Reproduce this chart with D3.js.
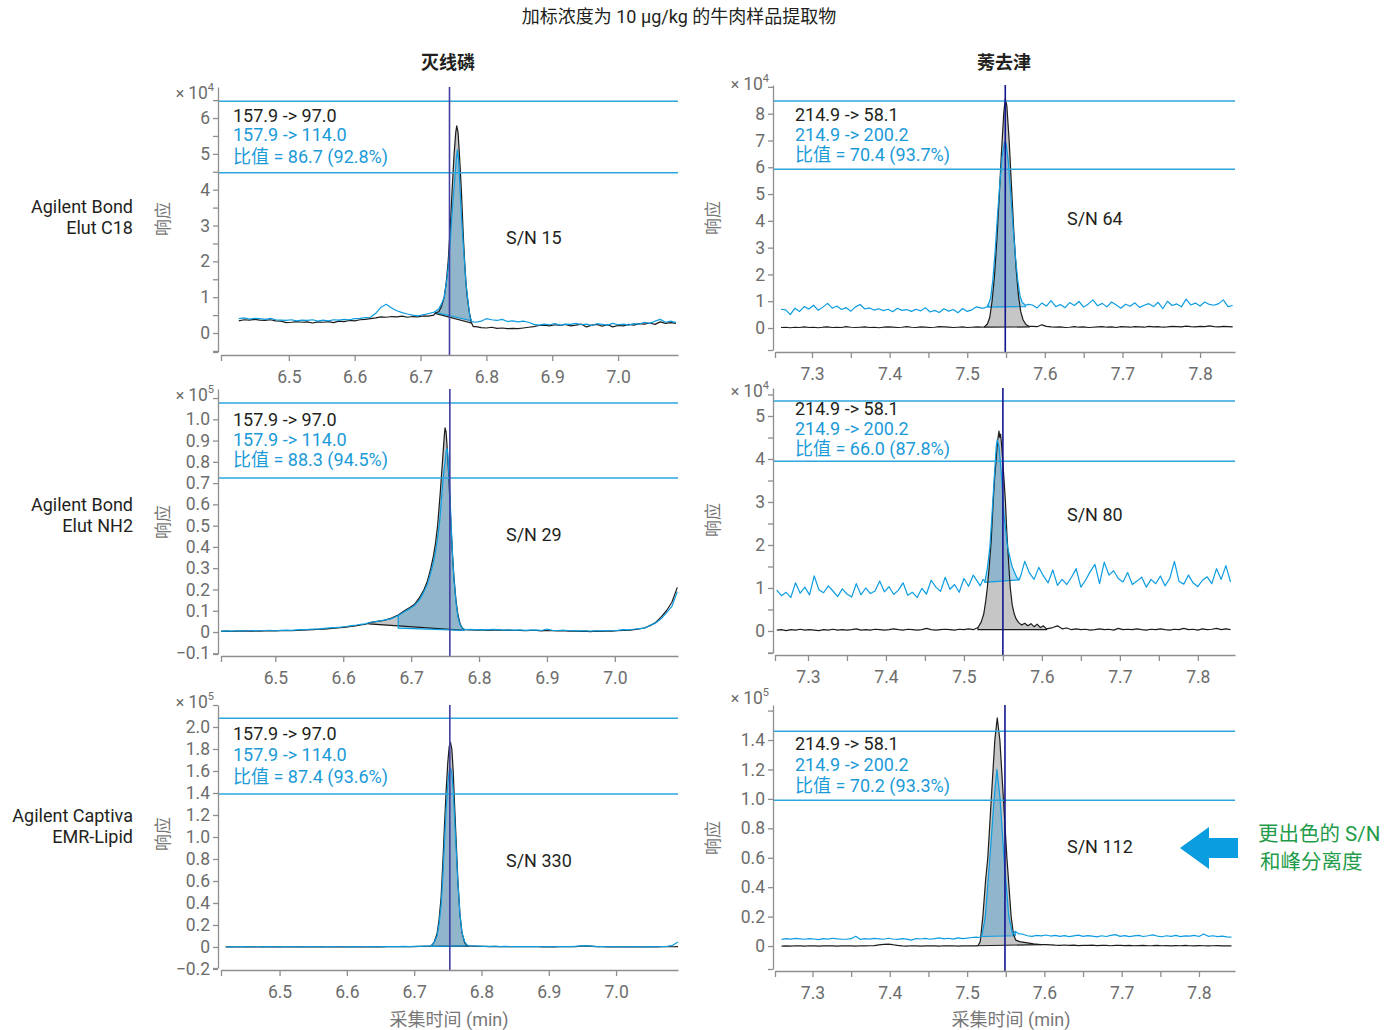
<!DOCTYPE html>
<html>
<head>
<meta charset="utf-8">
<script src="https://cdn.jsdelivr.net/npm/d3@7/dist/d3.min.js"></script>
<style>
body{margin:0;background:#fff;}
svg text{font-family:Roboto,"Noto Sans CJK SC",sans-serif;}
</style>
</head>
<body>
<svg id="chart" width="1393" height="1030"></svg>
<script>

// ---------- data (intensity in x10^4 or x10^5 counts, time in min) ----------

// 灭线磷 / Bond Elut C18  (x10^4)
var tlStep=0.008, tlPreStart=6.424, tlPostStart=6.784;
var tlBlackPre=[0.34,0.37,0.36,0.38,0.36,0.35,0.37,0.34,0.33,0.29,0.30,0.32,0.30,0.31,0.28,0.31,0.30,0.32,0.29,0.33,
	0.32,0.35,0.34,0.37,0.38,0.40,0.42,0.45,0.44,0.46,0.45,0.47,0.44,0.46,0.45,0.48,0.47,0.50];
var tlBlackPeak=[[6.722,0.55],[6.728,0.60],[6.732,0.75],[6.736,1.0],[6.739,1.4],[6.742,2.0],[6.745,2.9],[6.748,4.0],[6.751,5.0],
	[6.7535,5.6],[6.755,5.78],[6.757,5.6],[6.759,5.0],[6.762,4.0],[6.765,2.7],[6.767,2.0],[6.769,1.4],[6.771,1.0],[6.774,0.6],[6.777,0.3],[6.780,0.18]];
var tlBlackPost=[0.18,0.15,0.14,0.16,0.13,0.14,0.12,0.13,0.12,0.14,0.16,0.18,0.21,0.22,0.20,0.23,0.21,0.24,0.20,0.22,
	0.25,0.17,0.22,0.24,0.19,0.23,0.17,0.21,0.20,0.24,0.22,0.26,0.25,0.28,0.24,0.31,0.27,0.29,0.27];
var tlBluePre=[0.40,0.42,0.39,0.41,0.40,0.38,0.41,0.37,0.36,0.35,0.37,0.34,0.36,0.35,0.37,0.33,0.36,0.34,0.37,0.36,
	0.38,0.37,0.40,0.41,0.43,0.44,0.55,0.72,0.80,0.70,0.62,0.57,0.53,0.50,0.48,0.51,0.54,0.58];
var tlBluePeak=[[6.722,0.60],[6.728,0.68],[6.732,0.82],[6.736,1.0],[6.740,1.5],[6.743,2.0],[6.746,2.8],[6.749,3.6],[6.752,4.3],
	[6.7545,4.9],[6.756,5.11],[6.758,4.8],[6.760,4.0],[6.763,3.0],[6.766,2.2],[6.769,1.4],[6.772,0.9],[6.775,0.45],[6.778,0.32]];
var tlBluePost=[0.30,0.33,0.40,0.37,0.35,0.38,0.32,0.34,0.31,0.33,0.30,0.24,0.22,0.25,0.23,0.26,0.22,0.25,0.24,0.27,
	0.23,0.25,0.21,0.26,0.24,0.22,0.27,0.23,0.25,0.22,0.26,0.25,0.30,0.27,0.33,0.38,0.30,0.33,0.29];
var tlBlackBase=[[6.722,0.55],[6.777,0.28]];
var tlBlueBase=[[6.722,0.58],[6.776,0.35]];
var tlRT=6.744, tlLimits=[4.47,6.47];

// 灭线磷 / Bond Elut NH2  (x10^5)
var mlStep=0.008, mlPreStart=6.42, mlPostStart=6.788;
var mlBlackPre=[0.003,0.004,0.003,0.004,0.005,0.004,0.005,0.004,0.005,0.006,0.005,0.006,0.007,0.006,0.008,0.009,0.010,0.011,0.013,0.014,
	0.016,0.018,0.020,0.023,0.026,0.030,0.034];
var mlBlackPeak=[[6.632,0.036],[6.641,0.045],[6.650,0.05],[6.660,0.055],[6.670,0.064],[6.681,0.08],[6.690,0.1],[6.698,0.115],[6.705,0.13],
	[6.712,0.16],[6.719,0.2],[6.724,0.24],[6.729,0.3],[6.733,0.36],[6.736,0.42],[6.739,0.5],[6.741,0.58],[6.743,0.66],[6.745,0.75],
	[6.747,0.84],[6.749,0.93],[6.750,0.96],[6.7515,0.94],[6.753,0.87],[6.755,0.76],[6.757,0.62],[6.759,0.48],[6.761,0.36],[6.763,0.26],
	[6.766,0.15],[6.769,0.08],[6.772,0.04],[6.775,0.02],[6.778,0.012],[6.784,0.01]];
var mlBlackPost=[0.010,0.009,0.010,0.008,0.009,0.010,0.008,0.009,0.007,0.008,0.006,0.008,0.007,0.005,0.007,0.006,0.005,0.006,0.004,0.005,
	0.003,0.004,0.002,0.004,0.003,0.005,0.004,0.006,0.008,0.007,0.011,0.014,0.020,0.030,0.045,0.070,0.100,0.140,0.210];
var mlBluePre=[0.004,0.005,0.004,0.006,0.005,0.006,0.007,0.006,0.007,0.008,0.006,0.008,0.009,0.008,0.010,0.011,0.012,0.014,0.015,0.017,
	0.019,0.021,0.023,0.026,0.030,0.033,0.037];
var mlBluePeak=[[6.632,0.038],[6.641,0.046],[6.650,0.05],[6.660,0.056],[6.670,0.062],[6.680,0.075],[6.690,0.095],[6.698,0.11],[6.705,0.125],
	[6.712,0.15],[6.719,0.19],[6.724,0.225],[6.729,0.28],[6.733,0.33],[6.736,0.38],[6.739,0.44],[6.742,0.52],[6.744,0.6],[6.746,0.68],
	[6.748,0.75],[6.750,0.8],[6.752,0.86],[6.7535,0.86],[6.755,0.78],[6.757,0.66],[6.759,0.5],[6.761,0.36],[6.763,0.25],[6.766,0.14],
	[6.769,0.07],[6.772,0.035],[6.775,0.018],[6.778,0.012],[6.784,0.011]];
var mlBluePost=[0.012,0.010,0.011,0.010,0.012,0.011,0.009,0.010,0.009,0.010,0.008,0.009,0.010,0.007,0.014,0.008,0.007,0.009,0.006,0.007,
	0.005,0.006,0.004,0.006,0.005,0.007,0.006,0.008,0.011,0.010,0.013,0.016,0.018,0.032,0.042,0.062,0.090,0.120,0.190];
var mlBlackBase=[[6.638,0.038],[6.778,0.008]];
var mlBlueBase=[[6.681,0.018],[6.778,0.008]];
var mlRT=6.757, mlLimits=[0.724,1.077];

// 灭线磷 / Captiva EMR-Lipid  (x10^5)
var blStep=0.008, blPreStart=6.42, blPostStart=6.788;
var blBlackPre=[0.001,0.002,0.000,0.001,0.002,0.001,0.000,0.002,0.001,0.001,0.002,0.000,0.001,0.002,0.001,0.000,0.001,0.002,0.001,0.000,
	0.002,0.001,0.001,0.000,0.002,0.001,0.000,0.001,0.002,0.001,0.002,0.003,0.002,0.004,0.003,0.004,0.005,0.006];
var blBlackPeak=[[6.724,0.006],[6.727,0.02],[6.730,0.05],[6.734,0.12],[6.737,0.25],[6.740,0.45],[6.7425,0.75],[6.745,1.1],[6.7475,1.42],
	[6.750,1.68],[6.752,1.82],[6.754,1.86],[6.756,1.80],[6.758,1.6],[6.760,1.3],[6.7625,0.95],[6.765,0.6],[6.768,0.3],[6.771,0.13],
	[6.775,0.04],[6.778,0.015],[6.781,0.01]];
var blBlackPost=[0.008,0.006,0.005,0.004,0.005,0.003,0.004,0.003,0.002,0.003,0.002,0.003,0.002,0.001,0.002,0.001,0.002,0.003,0.002,0.004,
	0.008,0.010,0.006,0.003,0.002,0.001,0.002,0.001,0.000,0.001,0.002,0.001,0.000,0.002,0.001,0.002,0.003,0.002,0.004];
var blBluePre=[0.002,0.001,0.002,0.003,0.001,0.002,0.002,0.001,0.003,0.002,0.001,0.002,0.003,0.002,0.001,0.002,0.003,0.002,0.001,0.002,
	0.003,0.002,0.002,0.001,0.003,0.002,0.002,0.003,0.002,0.003,0.004,0.003,0.004,0.005,0.004,0.006,0.006,0.007];
var blBluePeak=[[6.724,0.008],[6.727,0.02],[6.730,0.045],[6.734,0.10],[6.737,0.21],[6.740,0.38],[6.7425,0.63],[6.745,0.95],[6.7475,1.25],
	[6.750,1.48],[6.752,1.6],[6.754,1.63],[6.756,1.58],[6.758,1.42],[6.760,1.18],[6.7625,0.88],[6.765,0.58],[6.768,0.3],[6.771,0.13],
	[6.775,0.05],[6.778,0.02],[6.781,0.012]];
var blBluePost=[0.009,0.007,0.006,0.005,0.006,0.004,0.005,0.004,0.003,0.004,0.003,0.004,0.003,0.002,0.003,0.002,0.003,0.004,0.003,0.006,
	0.010,0.013,0.008,0.004,0.003,0.002,0.003,0.002,0.001,0.002,0.003,0.002,0.001,0.003,0.002,0.004,0.006,0.015,0.045];
var blBlackBase=[[6.727,0.005],[6.781,0.008]];
var blBlueBase=[[6.727,0.006],[6.781,0.01]];
var blRT=6.753, blLimits=[1.39,2.08];

// 莠去津 / Bond Elut C18  (x10^4)
var trStep=0.006, trPreStart=7.26, trBlackPostStart=7.584, trBluePostStart=7.584;
var trBlackPre=[0.02,0.03,0.01,0.03,0.02,0.04,0.02,0.03,0.01,0.03,0.04,0.02,0.03,0.02,0.05,0.03,0.02,0.03,0.04,0.02,
	0.03,0.01,0.03,0.04,0.03,0.02,0.03,0.05,0.03,0.02,0.04,0.03,0.02,0.03,0.05,0.04,0.03,0.02,0.03,0.04,0.02,0.03,0.04,0.03];
var trBlackPeak=[[7.522,0.04],[7.526,0.15],[7.529,0.4],[7.532,1.0],[7.535,1.9],[7.538,3.2],[7.541,4.8],[7.544,6.5],[7.547,8.0],[7.549,8.55],
	[7.551,8.3],[7.554,7.0],[7.557,5.3],[7.560,3.6],[7.563,2.2],[7.566,1.2],[7.569,0.6],[7.572,0.3],[7.576,0.12],[7.580,0.06]];
var trBlackPost=[0.06,0.05,0.12,0.06,0.04,0.03,0.04,0.02,0.03,0.05,0.03,0.04,0.02,0.03,0.04,0.05,0.03,0.04,0.02,0.05,
	0.04,0.03,0.05,0.04,0.03,0.06,0.04,0.05,0.03,0.04,0.06,0.05,0.04,0.07,0.05,0.04,0.06,0.05,0.08,0.05,0.04,0.06,0.05,0.04];
var trBluePre=[0.70,0.68,0.50,0.74,0.62,0.80,0.71,0.85,0.66,0.78,0.92,0.74,0.82,0.69,0.76,0.63,0.79,0.88,0.71,0.75,
	0.67,0.72,0.65,0.70,0.61,0.74,0.66,0.69,0.62,0.70,0.64,0.76,0.60,0.66,0.58,0.72,0.63,0.69,0.57,0.73,0.62,0.68,0.79,0.74];
var trBluePeak=[[7.521,0.74],[7.526,0.80],[7.530,1.1],[7.533,1.8],[7.536,2.9],[7.539,4.2],[7.542,5.4],[7.545,6.4],[7.548,6.95],[7.550,6.9],
	[7.553,6.2],[7.556,5.0],[7.559,3.8],[7.562,2.7],[7.565,1.8],[7.568,1.2],[7.571,0.95],[7.575,0.85],[7.579,0.88]];
var trBluePost=[0.86,0.75,0.93,0.82,1.02,0.80,0.88,0.76,0.95,0.84,0.99,0.78,0.90,1.05,0.83,0.92,0.79,0.97,0.86,0.74,
	0.89,0.81,0.94,0.77,0.85,0.91,0.80,0.96,0.72,1.00,0.84,0.90,0.79,1.08,0.86,0.93,0.82,0.97,0.88,0.85,0.91,1.05,0.80,0.84];
var trBlackBase=[[7.522,0.03],[7.580,0.04]];
var trBlueBase=[[7.527,0.78],[7.575,0.80]];
var trRT=7.549, trLimits=[5.93,8.47];

// 莠去津 / Bond Elut NH2  (x10^4)
var mrStep=0.006, mrPreStart=7.26, mrBlackPostStart=7.614, mrBluePostStart=7.578;
var mrBlackPre=[0.02,0.03,0.01,0.03,0.02,0.04,0.02,0.03,0.02,0.01,0.03,0.02,0.04,0.02,0.03,0.02,0.03,0.05,0.02,0.03,
	0.02,0.04,0.03,0.02,0.03,0.05,0.03,0.02,0.04,0.03,0.02,0.03,0.06,0.03,0.02,0.03,0.04,0.03,0.02,0.04,0.03,0.05];
var mrBlackPeak=[[7.512,0.03],[7.518,0.08],[7.522,0.2],[7.5255,0.4],[7.528,0.7],[7.530,1.0],[7.5325,1.5],[7.535,2.1],[7.5375,3.0],
	[7.5395,3.6],[7.5415,4.0],[7.543,4.4],[7.545,4.65],[7.546,4.5],[7.547,4.58],[7.548,4.4],[7.5497,4.0],[7.5515,3.5],[7.5533,3.0],
	[7.555,2.3],[7.556,2.0],[7.558,1.4],[7.5595,1.0],[7.562,0.6],[7.5645,0.4],[7.567,0.28],[7.570,0.2],[7.574,0.14],[7.578,0.18],
	[7.582,0.12],[7.586,0.17],[7.590,0.1],[7.594,0.16],[7.598,0.08],[7.602,0.12],[7.606,0.05]];
var mrBlackPost=[0.08,0.12,0.05,0.07,0.03,0.05,0.03,0.04,0.02,0.03,0.05,0.03,0.04,0.02,0.06,0.03,0.04,0.03,0.05,0.03,
	0.02,0.04,0.03,0.05,0.03,0.02,0.04,0.03,0.06,0.03,0.04,0.02,0.05,0.03,0.04,0.06,0.03,0.05,0.03];
var mrBluePre=[0.95,0.82,0.90,0.78,1.12,0.88,1.02,0.84,1.28,0.96,0.89,1.05,0.93,0.80,0.98,0.86,0.79,1.10,0.84,1.00,
	0.87,0.93,1.16,0.91,1.03,0.85,0.95,1.12,0.83,0.90,0.78,0.99,0.86,1.18,1.02,0.92,1.25,0.97,1.08,0.90,1.22,1.04,1.30];
var mrBluePeak=[[7.521,1.05],[7.5245,1.2],[7.527,1.15],[7.530,1.45],[7.5333,1.95],[7.536,2.7],[7.5387,3.5],[7.5415,4.3],[7.5428,4.45],
	[7.545,4.3],[7.5487,3.5],[7.5514,2.7],[7.556,1.95],[7.5618,1.5],[7.5677,1.25],[7.571,1.19],[7.574,1.35]];
var mrBluePost=[1.62,1.35,1.20,1.48,1.28,1.12,1.42,1.06,1.20,1.08,1.25,1.45,1.02,1.18,1.38,1.55,1.10,1.60,1.30,1.40,
	1.22,1.14,1.36,1.08,1.16,1.25,1.02,1.20,1.10,1.28,1.05,1.22,1.62,1.15,1.09,1.30,1.12,1.03,1.18,1.26,1.10,1.45,1.20,1.52,1.14];
var mrBlackBase=[[7.518,0.03],[7.606,0.03]];
var mrBlueBase=[[7.527,1.13],[7.571,1.19]];
var mrRT=7.550, mrLimits=[3.95,5.35];

// 莠去津 / Captiva EMR-Lipid  (x10^5)
var brStep=0.006, brPreStart=7.26, brBlackPostStart=7.602, brBluePostStart=7.572;
var brBlackPre=[0.000,0.001,0.000,0.002,0.001,0.000,0.002,0.001,0.000,0.001,0.002,0.001,0.000,0.001,0.002,0.001,0.000,0.002,0.001,0.002,
	0.003,0.008,0.011,0.013,0.009,0.004,0.001,0.000,0.002,0.001,0.000,0.001,0.002,0.001,0.000,0.002,0.001,0.002,0.000,0.001,0.002,0.001];
var brBlackPeak=[[7.512,0.001],[7.5145,0.005],[7.517,0.03],[7.5204,0.2],[7.524,0.45],[7.5268,0.6],[7.5313,1.0],[7.5359,1.4],[7.539,1.55],
	[7.5424,1.4],[7.547,1.0],[7.5515,0.6],[7.557,0.2],[7.560,0.08],[7.563,0.04],[7.568,0.03],[7.574,0.025],[7.580,0.02],[7.586,0.015],
	[7.592,0.012],[7.596,0.01]];
var brBlackPost=[0.010,0.008,0.006,0.005,0.007,0.004,0.006,0.003,0.005,0.004,0.006,0.003,0.005,0.004,0.002,0.004,0.005,0.003,0.004,0.002,
	0.003,0.004,0.002,0.003,0.005,0.002,0.003,0.001,0.003,0.002,0.004,0.002,0.001,0.003,0.002,0.001,0.002,0.003,0.001,0.002,0.001];
var brBluePre=[0.045,0.050,0.047,0.052,0.049,0.046,0.051,0.048,0.044,0.050,0.047,0.053,0.049,0.046,0.046,0.050,0.066,0.045,0.051,0.047,
	0.052,0.049,0.046,0.053,0.048,0.045,0.050,0.047,0.040,0.051,0.048,0.052,0.046,0.050,0.055,0.049,0.053,0.047,0.056,0.051,0.054,0.058,0.060];
var brBluePeak=[[7.515,0.058],[7.519,0.065],[7.5236,0.2],[7.5295,0.6],[7.535,1.0],[7.5386,1.2],[7.5427,1.0],[7.5477,0.6],[7.554,0.2],
	[7.559,0.08],[7.5623,0.10],[7.566,0.085]];
var brBluePost=[0.080,0.070,0.066,0.072,0.069,0.075,0.068,0.073,0.066,0.071,0.064,0.069,0.074,0.066,0.071,0.067,0.062,0.070,0.065,0.072,
	0.078,0.066,0.071,0.064,0.069,0.073,0.065,0.070,0.076,0.068,0.063,0.070,0.066,0.072,0.064,0.069,0.067,0.073,0.065,0.082,
	0.066,0.070,0.064,0.068,0.062,0.060];
var brBlackBase=[[7.514,0.002],[7.596,0.01]];
var brBlueBase=[[7.519,0.065],[7.5623,0.07]];
var brRT=7.549, brLimits=[0.99,1.46];

// ticks and labels
var leftXTicks=[6.5,6.6,6.7,6.8,6.9,7.0];
var leftXLabels=[6.5,6.6,6.7,6.8,6.9,7.0];
var rightXTicks=[7.3,7.35,7.4,7.45,7.5,7.55,7.6,7.65,7.7,7.75,7.8];
var rightXLabels=[7.3,7.4,7.5,7.6,7.7,7.8];
var tlYTicks=[-0.5,0,0.5,1,1.5,2,2.5,3,3.5,4,4.5,5,5.5,6,6.5], tlYLabels=[0,1,2,3,4,5,6];
var mlYTicks=[-0.1,0,0.1,0.2,0.3,0.4,0.5,0.6,0.7,0.8,0.9,1.0,1.1], mlYLabels=[-0.1,0,0.1,0.2,0.3,0.4,0.5,0.6,0.7,0.8,0.9,1.0];
var blYTicks=[-0.2,0,0.2,0.4,0.6,0.8,1.0,1.2,1.4,1.6,1.8,2.0,2.2], blYLabels=[-0.2,0,0.2,0.4,0.6,0.8,1.0,1.2,1.4,1.6,1.8,2.0];
var trYTicks=[0,1,2,3,4,5,6,7,8,9], trYLabels=[0,1,2,3,4,5,6,7,8];
var mrYTicks=[-0.5,0,0.5,1,1.5,2,2.5,3,3.5,4,4.5,5,5.5], mrYLabels=[0,1,2,3,4,5];
var brYTicks=[0,0.2,0.4,0.6,0.8,1.0,1.2,1.4,1.6], brYLabels=[0,0.2,0.4,0.6,0.8,1.0,1.2,1.4];

// texts
var title='加标浓度为 10 μg/kg 的牛肉样品提取物';
var compounds=['灭线磷','莠去津'];
var sorbents=[['Agilent Bond','Elut C18'],['Agilent Bond','Elut NH2'],['Agilent Captiva','EMR-Lipid']];
var leftIons=['157.9 -> 97.0','157.9 -> 114.0'];
var rightIons=['214.9 -> 58.1','214.9 -> 200.2'];
var ratios=['比值 = 86.7 (92.8%)','比值 = 88.3 (94.5%)','比值 = 87.4 (93.6%)','比值 = 70.4 (93.7%)','比值 = 66.0 (87.8%)','比值 = 70.2 (93.3%)'];
var snTexts=['S/N 15','S/N 29','S/N 330','S/N 64','S/N 80','S/N 112'];
var exponents=['4','5','5','4','4','5'];
var yTitle='响应', xTitle='采集时间 (min)';
var calloutLines=['更出色的 S/N','和峰分离度'];

// ---------- drawing ----------

var C_BLACK='#1c1c1c', C_BLUE='#0c9ce0', C_LIMIT='#2ba6de', C_AXIS='#8e8e8e', C_TICK='#6d6d6d';
var C_TEXT='#231f20', C_TEXTBLUE='#1b9ad8', C_GREEN='#1f9c4a';

var svg=d3.select('#chart');

function series(start,step,pre,peak,postStart,post) {
	var pts=[];
	pre.forEach(function(v,i) {pts.push([start+i*step,v]);});
	peak.forEach(function(p) {pts.push(p);});
	post.forEach(function(v,i) {pts.push([postStart+i*step,v]);});
	return pts;
}
function valueAt(pts,t) {
	for (var i=0; i<pts.length-1; i++) {
		if ((pts[i][0]<=t)&&(pts[i+1][0]>=t)) {
			var a=pts[i], b=pts[i+1];
			if (b[0]==a[0]) return a[1];
			return a[1]+(b[1]-a[1])*(t-a[0])/(b[0]-a[0]);
		}
	}
	return pts[pts.length-1][1];
}
function slice(pts,t0,t1) {
	var out=[[t0,valueAt(pts,t0)]];
	pts.forEach(function(p) {if ((p[0]>t0)&&(p[0]<t1)) out.push(p);});
	out.push([t1,valueAt(pts,t1)]);
	return out;
}
function baseAt(B,t) {
	return B[0][1]+(B[1][1]-B[0][1])*(t-B[0][0])/(B[1][0]-B[0][0]);
}
function has(list,v) {
	for (var i in list) if (Math.abs(list[i]-v)<1e-9) return true;
	return false;
}
function fmtDec(v) {
	if (Math.abs(v)<1e-9) return '0';
	return (v<0?'\u2212':'')+Math.abs(v).toFixed(1);
}
function fmtInt(v) {
	return String(Math.round(v));
}

var panels=[
	{left:221,right:678,top:87,bottom:352,axisX:218,axisY:355,xDomain:[6.397,7.091],yDomain:[-0.53,6.866],
	 black:series(tlPreStart,tlStep,tlBlackPre,tlBlackPeak,tlPostStart,tlBlackPost),
	 blue:series(tlPreStart,tlStep,tlBluePre,tlBluePeak,tlPostStart,tlBluePost),
	 blackBase:tlBlackBase,blueBase:tlBlueBase,rt:tlRT,limits:tlLimits,rtColor:'#4040a2',
	 xTicks:leftXTicks,xLabels:leftXLabels,yTicks:tlYTicks,yLabels:tlYLabels,fmt:fmtInt,
	 ions:leftIons,ratio:ratios[0],sn:snTexts[0],exp:exponents[0],
	 textX:233,textY:[122,141,163],snPos:[506,244],expY:99,yTitleX:163,yTitleY:219},
	{left:221,right:678,top:389,bottom:654,axisX:218,axisY:656,xDomain:[6.42,7.093],yDomain:[-0.1034,1.1425],
	 black:series(mlPreStart,mlStep,mlBlackPre,mlBlackPeak,mlPostStart,mlBlackPost),
	 blue:series(mlPreStart,mlStep,mlBluePre,mlBluePeak,mlPostStart,mlBluePost),
	 blackBase:mlBlackBase,blueBase:mlBlueBase,rt:mlRT,limits:mlLimits,rtColor:'#4040a2',
	 xTicks:leftXTicks,xLabels:leftXLabels,yTicks:mlYTicks,yLabels:mlYLabels,fmt:fmtDec,
	 ions:leftIons,ratio:ratios[1],sn:snTexts[1],exp:exponents[1],
	 textX:233,textY:[426,446,466],snPos:[506,541],expY:401,yTitleX:163,yTitleY:522},
	{left:221,right:678,top:705,bottom:968,axisX:218,axisY:970,xDomain:[6.413,7.092],yDomain:[-0.191,2.2],
	 black:series(blPreStart,blStep,blBlackPre,blBlackPeak,blPostStart,blBlackPost),
	 blue:series(blPreStart,blStep,blBluePre,blBluePeak,blPostStart,blBluePost),
	 blackBase:blBlackBase,blueBase:blBlueBase,rt:blRT,limits:blLimits,rtColor:'#4040a2',
	 xTicks:leftXTicks,xLabels:leftXLabels,yTicks:blYTicks,yLabels:blYLabels,fmt:fmtDec,
	 ions:leftIons,ratio:ratios[2],sn:snTexts[2],exp:exponents[2],
	 textX:233,textY:[740,761,783],snPos:[506,867],expY:708,yTitleX:163,yTitleY:834,xTitle:449},
	{left:775,right:1235,top:85,bottom:350,axisX:773,axisY:352,xDomain:[7.2523,7.845],yDomain:[-0.82,9.07],
	 black:series(trPreStart,trStep,trBlackPre,trBlackPeak,trBlackPostStart,trBlackPost),
	 blue:series(trPreStart,trStep,trBluePre,trBluePeak,trBluePostStart,trBluePost),
	 blackBase:trBlackBase,blueBase:trBlueBase,rt:trRT,limits:trLimits,rtColor:'#14148e',
	 xTicks:rightXTicks,xLabels:rightXLabels,yTicks:trYTicks,yLabels:trYLabels,fmt:fmtInt,
	 ions:rightIons,ratio:ratios[3],sn:snTexts[3],exp:exponents[3],
	 textX:795,textY:[121,141,161],snPos:[1067,225],expY:90,yTitleX:713,yTitleY:218},
	{left:775,right:1235,top:388,bottom:653,axisX:773,axisY:655,xDomain:[7.2577,7.8477],yDomain:[-0.512,5.651],
	 black:series(mrPreStart,mrStep,mrBlackPre,mrBlackPeak,mrBlackPostStart,mrBlackPost),
	 blue:series(mrPreStart,mrStep,mrBluePre,mrBluePeak,mrBluePostStart,mrBluePost),
	 blackBase:mrBlackBase,blueBase:mrBlueBase,rt:mrRT,limits:mrLimits,rtColor:'#14148e',
	 xTicks:rightXTicks,xLabels:rightXLabels,yTicks:mrYTicks,yLabels:mrYLabels,fmt:fmtInt,
	 ions:rightIons,ratio:ratios[4],sn:snTexts[4],exp:exponents[4],
	 textX:795,textY:[415,435,455],snPos:[1067,521],expY:397,yTitleX:713,yTitleY:520},
	{left:775,right:1235,top:705,bottom:969,axisX:773,axisY:971,xDomain:[7.2515,7.8466],yDomain:[-0.156,1.638],
	 black:series(brPreStart,brStep,brBlackPre,brBlackPeak,brBlackPostStart,brBlackPost),
	 blue:series(brPreStart,brStep,brBluePre,brBluePeak,brBluePostStart,brBluePost),
	 blackBase:brBlackBase,blueBase:brBlueBase,rt:brRT,limits:brLimits,rtColor:'#14148e',
	 xTicks:rightXTicks,xLabels:rightXLabels,yTicks:brYTicks,yLabels:brYLabels,fmt:fmtDec,
	 ions:rightIons,ratio:ratios[5],sn:snTexts[5],exp:exponents[5],
	 textX:795,textY:[750,771,792],snPos:[1067,853],expY:704,yTitleX:713,yTitleY:838,xTitle:1011}
];

function drawPanel(P) {
	var x=d3.scaleLinear().domain(P.xDomain).range([P.left,P.right]);
	var y=d3.scaleLinear().domain(P.yDomain).range([P.bottom,P.top]);
	var g=svg.append('g');
	var line=d3.line().x(function(d) {return x(d[0]);}).y(function(d) {return y(d[1]);});

	function fillArea(pts,B,fill,op) {
		var seg=slice(pts,B[0][0],B[1][0]);
		var area=d3.area()
			.x(function(d) {return x(d[0]);})
			.y0(function(d) {return y(baseAt(B,d[0]));})
			.y1(function(d) {return y(d[1]);});
		g.append('path').datum(seg).attr('d',area).attr('fill',fill).attr('fill-opacity',op);
	}
	fillArea(P.black,P.blackBase,'#c6c6c6',1);
	fillArea(P.blue,P.blueBase,'#3d9fd8',0.38);

	// integration baselines
	function baseLine(pts,B,color) {
		var d=[[B[0][0],valueAt(pts,B[0][0])],B[0],B[1],[B[1][0],valueAt(pts,B[1][0])]];
		g.append('path').datum(d).attr('d',line).attr('fill','none').attr('stroke',color).attr('stroke-width',1.2);
	}
	baseLine(P.black,P.blackBase,C_BLACK);
	baseLine(P.blue,P.blueBase,C_BLUE);

	g.append('path').datum(P.black).attr('d',line).attr('fill','none').attr('stroke',C_BLACK)
		.attr('stroke-width',1.2).attr('stroke-linejoin','round');
	g.append('path').datum(P.blue).attr('d',line).attr('fill','none').attr('stroke',C_BLUE)
		.attr('stroke-width',1.2).attr('stroke-linejoin','round');

	// qualifier ratio window
	P.limits.forEach(function(v) {
		g.append('line').attr('x1',P.axisX).attr('x2',P.right).attr('y1',y(v)).attr('y2',y(v))
			.attr('stroke',C_LIMIT).attr('stroke-width',1.5);
	});
	// expected retention time
	g.append('line').attr('x1',x(P.rt)).attr('x2',x(P.rt)).attr('y1',P.top).attr('y2',P.axisY)
		.attr('stroke',P.rtColor).attr('stroke-width',1.6);

	// axes
	var yAxis=d3.axisLeft(y).tickValues(P.yTicks).tickSize(5).tickSizeOuter(0).tickPadding(3)
		.tickFormat(function(v) {return has(P.yLabels,v)?P.fmt(v):'';});
	var ya=g.append('g').attr('transform','translate('+P.axisX+',0)').call(yAxis);
	var xAxis=d3.axisBottom(x).tickValues(P.xTicks).tickSize(6).tickSizeOuter(0).tickPadding(10)
		.tickFormat(function(v) {return has(P.xLabels,v)?v.toFixed(1):'';});
	var xa=g.append('g').attr('transform','translate(0,'+P.axisY+')').call(xAxis);
	[ya,xa].forEach(function(a) {
		a.selectAll('path,line').attr('stroke',C_AXIS).attr('stroke-width',1.3);
		a.selectAll('text').attr('fill',C_TICK).style('font-size','17.5px').style('font-family','Roboto,"Noto Sans CJK SC",sans-serif');
	});
	// end ticks
	g.append('line').attr('x1',P.axisX-5).attr('x2',P.axisX).attr('y1',P.bottom+0.5).attr('y2',P.bottom+0.5)
		.attr('stroke',C_AXIS).attr('stroke-width',1.3);
	g.append('line').attr('x1',P.left+0.5).attr('x2',P.left+0.5).attr('y1',P.axisY).attr('y2',P.axisY+6)
		.attr('stroke',C_AXIS).attr('stroke-width',1.3);

	// exponent label
	var ex=g.append('text').attr('x',P.axisX-4).attr('y',P.expY).attr('text-anchor','end').attr('fill',C_TICK);
	ex.append('tspan').text('\u00d7 ').style('font-size','16px');
	ex.append('tspan').text('10').style('font-size','17.5px');
	ex.append('tspan').text(P.exp).style('font-size','11px').attr('dy',-8);

	// ion annotations
	g.append('text').attr('x',P.textX).attr('y',P.textY[0]).text(P.ions[0]).attr('fill',C_TEXT).style('font-size','18px');
	g.append('text').attr('x',P.textX).attr('y',P.textY[1]).text(P.ions[1]).attr('fill',C_TEXTBLUE).style('font-size','18px');
	g.append('text').attr('x',P.textX).attr('y',P.textY[2]).text(P.ratio).attr('fill',C_TEXTBLUE).style('font-size','18px');
	g.append('text').attr('x',P.snPos[0]).attr('y',P.snPos[1]).text(P.sn).attr('fill',C_TEXT).style('font-size','18px');

	g.append('text').attr('transform','translate('+P.yTitleX+','+P.yTitleY+') rotate(-90)')
		.attr('text-anchor','middle').attr('dy','0.35em').text(yTitle).attr('fill','#777').style('font-size','17px');
	if (P.xTitle) {
		g.append('text').attr('x',P.xTitle).attr('y',1026).attr('text-anchor','middle').text(xTitle)
			.attr('fill','#777').style('font-size','18px');
	}
}

panels.forEach(drawPanel);

// titles and row labels
svg.append('text').attr('x',679).attr('y',23).attr('text-anchor','middle').text(title)
	.attr('fill',C_TEXT).style('font-size','18px');
svg.append('text').attr('x',448).attr('y',69).attr('text-anchor','middle').text(compounds[0])
	.attr('fill',C_TEXT).style('font-size','18px').style('font-weight','bold');
svg.append('text').attr('x',1004).attr('y',69).attr('text-anchor','middle').text(compounds[1])
	.attr('fill',C_TEXT).style('font-size','18px').style('font-weight','bold');
var rowY=[213,511,822];
sorbents.forEach(function(s,i) {
	svg.append('text').attr('x',133).attr('y',rowY[i]).attr('text-anchor','end').text(s[0])
		.attr('fill',C_TEXT).style('font-size','18px');
	svg.append('text').attr('x',133).attr('y',rowY[i]+21).attr('text-anchor','end').text(s[1])
		.attr('fill',C_TEXT).style('font-size','18px');
});

// callout arrow
svg.append('path')
	.attr('d','M1180,848 L1209,827 L1209,838 L1238,838 L1238,858 L1209,858 L1209,869 Z')
	.attr('fill','#0a9de0');
svg.append('text').attr('x',1258).attr('y',841).text(calloutLines[0]).attr('fill',C_GREEN).style('font-size','20.5px');
svg.append('text').attr('x',1260).attr('y',869).text(calloutLines[1]).attr('fill',C_GREEN).style('font-size','20.5px');

</script>
</body>
</html>
